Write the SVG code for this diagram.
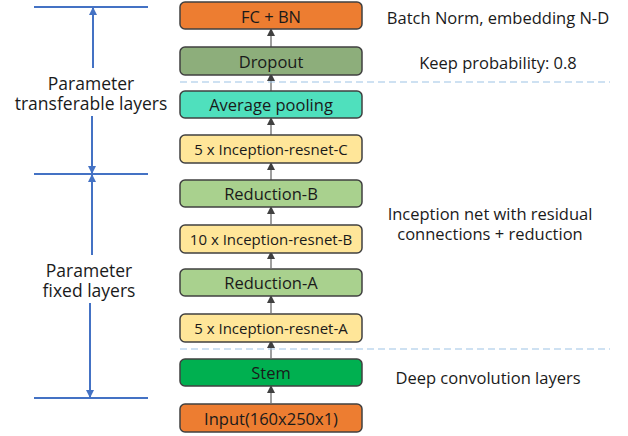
<svg xmlns="http://www.w3.org/2000/svg" width="628" height="436" viewBox="0 0 628 436">
<style>
.box{stroke:#404040;stroke-width:1.5}
.t{font-family:"Open Sans","Liberation Sans",sans-serif;font-size:15px;fill:#1a1a1a;text-anchor:middle;dominant-baseline:central}
.n{font-family:"Open Sans","Liberation Sans",sans-serif;font-size:16.5px;fill:#1a1a1a;text-anchor:middle;dominant-baseline:central}
.a{font-family:"Open Sans","Liberation Sans",sans-serif;font-size:17.5px;fill:#1a1a1a;text-anchor:middle;dominant-baseline:central}
.conn{stroke:#7f7f7f;stroke-width:1.5;fill:none}
.ann{stroke:#4472C4;stroke-width:2;fill:none}
.dash{stroke:#9DC3E6;stroke-width:1.2;stroke-dasharray:7,4;fill:none}
</style>
<defs>
<marker id="ah" markerWidth="8" markerHeight="8" refX="6" refY="4" orient="auto" markerUnits="userSpaceOnUse" viewBox="0 0 8 8"><path d="M0,0 L8,4 L0,8 z" fill="#404040"/></marker>
<marker id="ab" markerWidth="8" markerHeight="8" refX="7" refY="4" orient="auto" markerUnits="userSpaceOnUse" viewBox="0 0 8 8"><path d="M0,0 L8,4 L0,8 z" fill="#4472C4"/></marker>
</defs>
<g id="connectors">
<line class="conn" x1="271" y1="403" x2="271" y2="387" marker-end="url(#ah)"/>
<line class="conn" x1="271" y1="358" x2="271" y2="342" marker-end="url(#ah)"/>
<line class="conn" x1="271" y1="313" x2="271" y2="297" marker-end="url(#ah)"/>
<line class="conn" x1="271" y1="268" x2="271" y2="253" marker-end="url(#ah)"/>
<line class="conn" x1="271" y1="224" x2="271" y2="208" marker-end="url(#ah)"/>
<line class="conn" x1="271" y1="180" x2="271" y2="164" marker-end="url(#ah)"/>
<line class="conn" x1="271" y1="135" x2="271" y2="119" marker-end="url(#ah)"/>
<line class="conn" x1="271" y1="91" x2="271" y2="75" marker-end="url(#ah)"/>
<line class="conn" x1="271" y1="47" x2="271" y2="30" marker-end="url(#ah)"/>
</g>
<g id="dividers">
<line class="dash" x1="180" y1="82" x2="610" y2="82"/>
<line class="dash" x1="180" y1="349" x2="610" y2="349"/>
</g>
<g id="fcbn"><rect class="box" x="180" y="2" width="182" height="27" rx="5" fill="#ED7D31"/><text class="n" x="271" y="16">FC + BN</text></g>
<g id="dropout"><rect class="box" x="180" y="47" width="182" height="28" rx="5" fill="#8DAE7B"/><text class="n" x="271" y="61">Dropout</text></g>
<g id="avgpool"><rect class="box" x="180" y="91" width="182" height="27" rx="5" fill="#4FE0BD"/><text class="n" x="271" y="104.5">Average pooling</text></g>
<g id="incC"><rect class="box" x="180" y="135" width="182" height="28" rx="5" fill="#FFE699"/><text class="t" x="271" y="149">5 x Inception-resnet-C</text></g>
<g id="redB"><rect class="box" x="180" y="180" width="182" height="27" rx="5" fill="#A9D18E"/><text class="n" x="271" y="193.5">Reduction-B</text></g>
<g id="incB"><rect class="box" x="180" y="225" width="182" height="28" rx="5" fill="#FFE699"/><text class="t" x="271" y="239">10 x Inception-resnet-B</text></g>
<g id="redA"><rect class="box" x="180" y="269" width="182" height="27" rx="5" fill="#A9D18E"/><text class="n" x="271" y="282.5">Reduction-A</text></g>
<g id="incA"><rect class="box" x="180" y="314" width="182" height="28" rx="5" fill="#FFE699"/><text class="t" x="271" y="328">5 x Inception-resnet-A</text></g>
<g id="stem"><rect class="box" x="180" y="359" width="182" height="27" rx="5" fill="#00B050"/><text class="n" x="271" y="372.5">Stem</text></g>
<g id="input"><rect class="box" x="180" y="404" width="182" height="28" rx="5" fill="#ED7D31"/><text class="n" x="271" y="418">Input(160x250x1)</text></g>
<g id="annotations">
<line class="ann" x1="34" y1="7" x2="148" y2="7"/>
<line class="ann" x1="34" y1="174" x2="148" y2="174"/>
<line class="ann" x1="34" y1="398" x2="148" y2="398"/>
<line class="ann" x1="93" y1="68" x2="93" y2="8" marker-end="url(#ab)"/>
<line class="ann" x1="92" y1="116" x2="92" y2="173" marker-end="url(#ab)"/>
<line class="ann" x1="92" y1="255" x2="92" y2="175" marker-end="url(#ab)"/>
<line class="ann" x1="90" y1="303" x2="90" y2="397" marker-end="url(#ab)"/>
<text class="a" x="91" y="83">Parameter</text>
<text class="a" x="91" y="103">transferable layers</text>
<text class="a" x="89" y="270">Parameter</text>
<text class="a" x="89" y="290">fixed layers</text>
</g>
<g id="notes">
<text class="n" x="498" y="17">Batch Norm, embedding N-D</text>
<text class="n" x="498" y="62">Keep probability: 0.8</text>
<text class="n" x="490" y="213">Inception net with residual</text>
<text class="n" x="490" y="233">connections + reduction</text>
<text class="n" x="488" y="377">Deep convolution layers</text>
</g>
</svg>
